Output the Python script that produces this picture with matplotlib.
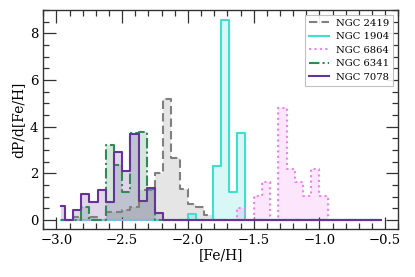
import numpy as np
import matplotlib
matplotlib.use("Agg")
from matplotlib import pyplot as plt
from matplotlib.ticker import MultipleLocator

plt.rcParams['font.family'] = ['DejaVu Serif']
plt.rcParams['mathtext.fontset'] = 'dejavuserif'

# common [Fe/H] bins, width 0.0625 from -3.0 to -0.5
bin_edges = np.linspace(-3.0, -0.5, 41)
bin_centers = 0.5 * (bin_edges[:-1] + bin_edges[1:])

# dP/d[Fe/H] per bin (zero elsewhere)
ngc2419 = np.zeros(40)
ngc2419[[2, 4, 6, 7, 8, 9, 10, 11, 12, 13, 14, 15, 16, 17, 18]] = \
    [0.13, 0.12, 0.35, 0.35, 0.45, 0.55, 1.3, 1.3, 2.0, 5.2, 2.65, 1.35, 0.68, 0.57, 0.2]

ngc1904 = np.zeros(40)
ngc1904[[16, 19, 20, 21, 22]] = [0.25, 2.33, 8.57, 1.2, 3.71]

ngc6864 = np.zeros(40)
ngc6864[[22, 24, 25, 27, 28, 29, 30, 31, 32]] = \
    [0.52, 1.05, 1.63, 4.8, 2.2, 1.65, 1.05, 2.18, 1.02]

ngc6341 = np.zeros(40)
ngc6341[[3, 6, 7, 8, 9, 10, 11]] = [0.55, 3.22, 2.35, 1.21, 3.75, 3.77, 1.35]

ngc7078 = np.zeros(40)
ngc7078[[0, 2, 3, 4, 5, 6, 7, 8, 9, 10, 11, 12]] = \
    [0.6, 0.42, 1.13, 0.77, 1.3, 0.78, 2.9, 2.1, 3.67, 0.82, 1.39, 0.32]

names = ['NGC 2419', 'NGC 1904', 'NGC 6864', 'NGC 6341', 'NGC 7078']
series = [ngc2419, ngc1904, ngc6864, ngc6341, ngc7078]
colors = ['gray', 'turquoise', 'violet', 'seagreen', 'rebeccapurple']
styles = [(0, (4, 2)), '-', (0, (1, 1.6)), (0, (5, 1.5, 1, 1.5)), '-']

fig = plt.figure(figsize=(4.15, 2.77), dpi=100)
ax = fig.add_axes([0.1043, 0.172, 0.8555, 0.792])

for vals, name, c, ls in zip(series, names, colors, styles):
    ax.fill_between(bin_centers, vals, step='mid', color=c, alpha=0.2, lw=0)
    ax.step(bin_centers, vals, where='mid', color=c, ls=ls, lw=1.5, label=name)

ax.set_xlim(-3.1, -0.4)
ax.set_ylim(-0.4, 9.0)
ax.xaxis.set_major_locator(MultipleLocator(0.5))
ax.xaxis.set_minor_locator(MultipleLocator(0.1))
ax.yaxis.set_major_locator(MultipleLocator(2))
ax.yaxis.set_minor_locator(MultipleLocator(0.5))
ax.tick_params(which='both', direction='in', top=True, right=True, labelsize=9.5, colors='#333333', labelcolor='black')
ax.tick_params(which='major', length=9, width=0.9)
ax.tick_params(which='minor', length=4.5, width=0.9)
for sp in ax.spines.values():
    sp.set_linewidth(1.0)
    sp.set_color('#333333')

ax.set_xlabel('[Fe/H]', fontsize=10, labelpad=1)
ax.set_ylabel('dP/d[Fe/H]', fontsize=10, labelpad=3)

leg = ax.legend(loc='upper right', fontsize=7.2, handlelength=2.0, handletextpad=0.7,
                labelspacing=0.45, borderpad=0.4, fancybox=False,
                edgecolor='#bbbbbb', framealpha=0.9)
leg.get_frame().set_linewidth(0.8)

fig.savefig('out.png', dpi=100)
